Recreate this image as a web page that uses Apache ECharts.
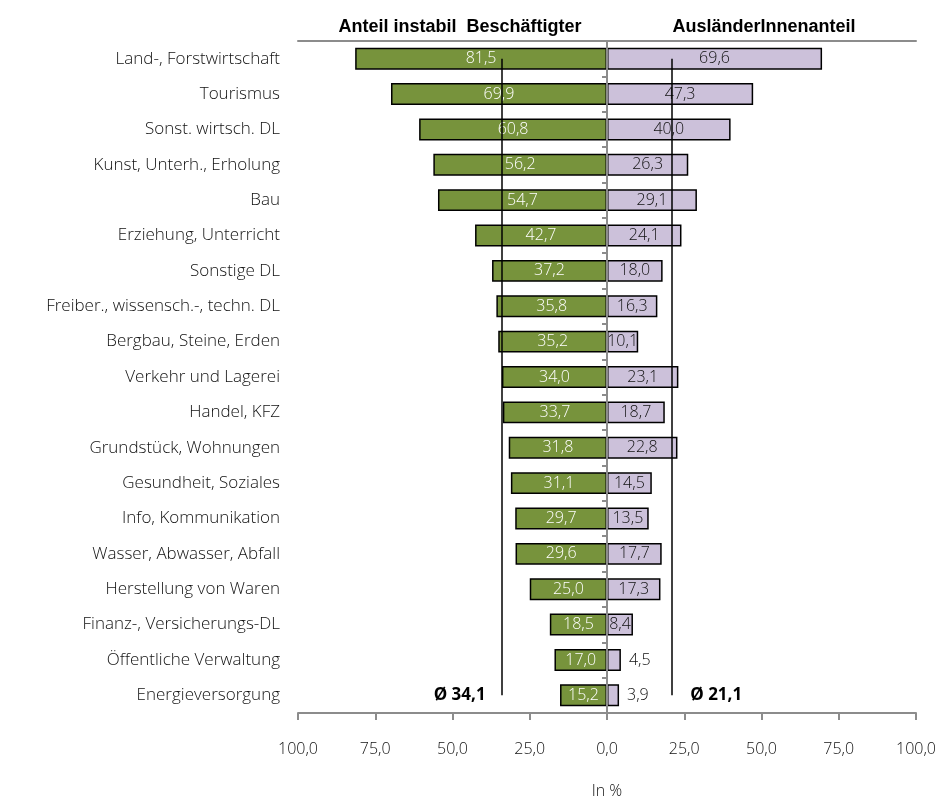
<!DOCTYPE html>
<html>
<head>
<meta charset="utf-8">
<script src="https://cdn.jsdelivr.net/npm/echarts@6/dist/echarts.min.js"></script>
<style>
  html, body { margin: 0; padding: 0; background: #fff; }
  #chart { width: 935px; height: 799px; }
</style>
</head>
<body>
<div id="chart"></div>
<script>
// Branchen (von oben nach unten)
const categories = [
  'Land-, Forstwirtschaft', 'Tourismus', 'Sonst. wirtsch. DL', 'Kunst, Unterh., Erholung',
  'Bau', 'Erziehung, Unterricht', 'Sonstige DL', 'Freiber., wissensch.-, techn. DL',
  'Bergbau, Steine, Erden', 'Verkehr und Lagerei', 'Handel, KFZ', 'Grundstück, Wohnungen',
  'Gesundheit, Soziales', 'Info, Kommunikation', 'Wasser, Abwasser, Abfall',
  'Herstellung von Waren', 'Finanz-, Versicherungs-DL', 'Öffentliche Verwaltung', 'Energieversorgung'
];
// Anteil instabil Beschäftigter in %
const instabil = [81.5, 69.9, 60.8, 56.2, 54.7, 42.7, 37.2, 35.8, 35.2, 34.0, 33.7, 31.8, 31.1, 29.7, 29.6, 25.0, 18.5, 17.0, 15.2];
// AusländerInnenanteil in %
const auslaender = [69.6, 47.3, 40.0, 26.3, 29.1, 24.1, 18.0, 16.3, 10.1, 23.1, 18.7, 22.8, 14.5, 13.5, 17.7, 17.3, 8.4, 4.5, 3.9];
// Durchschnitte
const avgInstabil = 34.1;
const avgAuslaender = 21.1;

const font = '"Open Sans", sans-serif';
const headFont = '"Liberation Sans Narrow", "Liberation Sans", sans-serif';
const fmt = v => Math.abs(v).toFixed(1).replace('.', ',');

const chart = echarts.init(document.getElementById('chart'));
const lastCat = categories[categories.length - 1];

chart.setOption({
  animation: false,
  textStyle: { fontFamily: font },
  title: [
    { text: 'Anteil instabil  Beschäftigter', left: 455, top: 13, textAlign: 'center',
      textStyle: { fontFamily: headFont, fontSize: 18, fontWeight: 'bold', color: '#000' } },
    { text: 'AusländerInnenanteil', left: 759, top: 13, textAlign: 'center',
      textStyle: { fontFamily: headFont, fontSize: 18, fontWeight: 'bold', color: '#000' } }
  ],
  grid: { left: 298, right: 19, top: 41, bottom: 86, outerBoundsMode: 'none' },
  xAxis: [
    {
      type: 'value', min: -100, max: 100, interval: 25, position: 'bottom',
      name: 'In %', nameLocation: 'middle', nameGap: 70,
      nameTextStyle: { fontFamily: font, fontWeight: 300, fontSize: 16, color: '#111' },
      axisLine: { show: true, onZero: false, lineStyle: { color: '#8c8c8c', width: 2 } },
      axisTick: { show: true, length: 7, lineStyle: { color: '#8c8c8c', width: 2 } },
      axisLabel: { formatter: fmt, margin: 28, fontSize: 16, fontWeight: 300, color: '#111', fontFamily: font },
      splitLine: { show: false }
    },
    {
      type: 'value', min: -100, max: 100, position: 'top',
      axisLine: { show: true, onZero: false, lineStyle: { color: '#8c8c8c', width: 2 } },
      axisTick: { show: false }, axisLabel: { show: false }, splitLine: { show: false }
    }
  ],
  yAxis: [
    {
      type: 'category', data: categories, inverse: true, position: 'left',
      axisLine: { show: false }, axisTick: { show: false },
      axisLabel: { fontSize: 17, fontWeight: 300, color: '#111', margin: 18, fontFamily: font }
    },
    {
      type: 'category', data: categories, inverse: true, position: 'left', z: 5,
      axisLine: { show: true, onZero: true, lineStyle: { color: '#8c8c8c', width: 2 } },
      axisTick: { show: true, length: 5, lineStyle: { color: '#8c8c8c', width: 2 } },
      axisLabel: { show: false }
    }
  ],
  series: [
    {
      name: 'Anteil instabil Beschäftigter', type: 'bar', stack: 'b', barCategoryGap: '38%',
      data: instabil.map(v => -v),
      itemStyle: { color: '#77933C', borderColor: '#000', borderWidth: 1.5 },
      label: { show: true, position: 'inside', color: '#fff', fontSize: 16, fontWeight: 300, fontFamily: font, formatter: p => fmt(p.value) },
      markLine: {
        silent: true, symbol: 'none',
        lineStyle: { color: '#000', width: 1.5, type: 'solid' },
        label: { show: false },
        data: [[{ coord: [-avgInstabil, categories[0]] }, { coord: [-avgInstabil, lastCat] }]]
      },
      markPoint: {
        symbol: 'circle', symbolSize: 0,
        label: { show: true, position: 'left', distance: 16, formatter: 'Ø ' + fmt(avgInstabil),
          fontWeight: 'bold', fontSize: 17, color: '#000', fontFamily: font },
        data: [{ coord: [-avgInstabil, lastCat] }]
      }
    },
    {
      name: 'AusländerInnenanteil', type: 'bar', stack: 'b', barCategoryGap: '38%',
      data: auslaender.map(v => ({
        value: v,
        label: v < 6 ? { position: 'right', distance: 8 } : { position: 'inside' }
      })),
      itemStyle: { color: '#CCC1DA', borderColor: '#000', borderWidth: 1.5 },
      label: { show: true, color: '#111', fontSize: 16, fontWeight: 300, fontFamily: font, formatter: p => fmt(p.value) },
      markLine: {
        silent: true, symbol: 'none',
        lineStyle: { color: '#000', width: 1.5, type: 'solid' },
        label: { show: false },
        data: [[{ coord: [avgAuslaender, categories[0]] }, { coord: [avgAuslaender, lastCat] }]]
      },
      markPoint: {
        symbol: 'circle', symbolSize: 0,
        label: { show: true, position: 'right', distance: 18, formatter: 'Ø ' + fmt(avgAuslaender),
          fontWeight: 'bold', fontSize: 17, color: '#000', fontFamily: font },
        data: [{ coord: [avgAuslaender, lastCat] }]
      }
    }
  ]
});
</script>
</body>
</html>
